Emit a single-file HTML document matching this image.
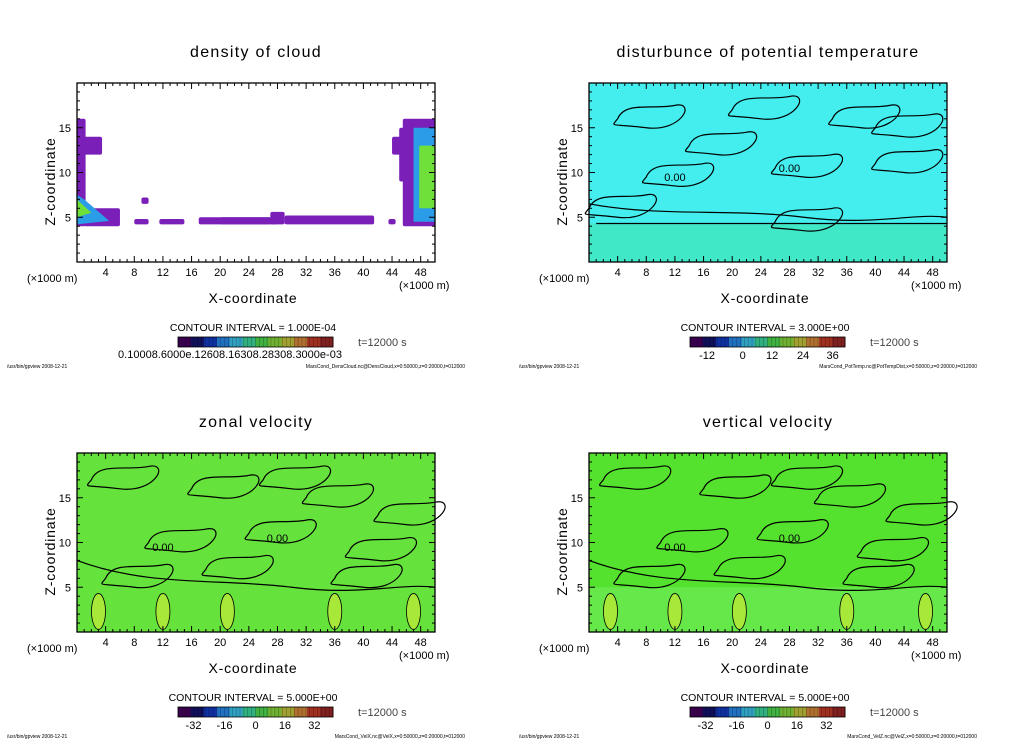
<!DOCTYPE html>
<html><head><meta charset="utf-8">
<style>
html,body{margin:0;padding:0;background:#fff;}
svg{display:block;font-family:"Liberation Sans",sans-serif;}
</style></head>
<body>
<svg id="fig" width="1024" height="740" viewBox="0 0 1024 740"></svg>
<script>
// Axis data
const xTicks=[4,8,12,16,20,24,28,32,36,40,44,48];
const zTicks=[5,10,15];
const cbTicksT=["-12","0","12","24","36"];
const cbTicksV=["-32","-16","0","16","32"];
const titles=["density of cloud","disturbunce of potential temperature","zonal velocity","vertical velocity"];
const intervals=["1.000E-04","3.000E+00","5.000E+00","5.000E+00"];
const files=["MarsCond_DensCloud.nc@DensCloud,x=0:50000,z=0:20000,t=012000","MarsCond_PotTemp.nc@PotTempDist,x=0:50000,z=0:20000,t=012000","MarsCond_VelX.nc@VelX,x=0:50000,z=0:20000,t=012000","MarsCond_VelZ.nc@VelZ,x=0:50000,z=0:20000,t=012000"];
// cloud patches: x0,x1 (km), z0,z1 (km)
const cloudX0=[0,0,1,8,9,11.5,17,20,27,29,43.5,45.5,45,44];
const cloudX1=[3.5,1.2,6,10,10,15,27,28,29,41.5,44.5,50,50,50];
const cloudZ0=[12,4,4,4.2,6.5,4.2,4.2,4.2,4.2,4.2,4.2,4,9,12];
const cloudZ1=[14,16,6,4.8,7.2,4.8,5,5,5.6,5.2,4.8,16,15,14];
const NS="http://www.w3.org/2000/svg";
const svg=document.getElementById('fig');
function el(t,a,p){const e=document.createElementNS(NS,t);for(const k in a)e.setAttribute(k,a[k]);(p||svg).appendChild(e);return e;}
function txt(x,y,s,size,anchor,p){const e=el('text',{x:x,y:y,'font-size':size,'text-anchor':anchor||'middle',fill:'#000'},p);e.textContent=s;return e;}
const panels=[{x:77,y:83},{x:589,y:83},{x:77,y:453},{x:589,y:453}];
const W=358,H=179;
panels.forEach((P,i)=>{
  const g=el('g',{});
  
  
  const sx=v=>P.x+v/50*W, sz=v=>P.y+H-v/20*H;
  const t=txt(P.x+W/2,P.y-26,titles[i],16,'middle',g);
  t.setAttribute('letter-spacing','1.3');
  if(i===1){el('rect',{x:P.x,y:P.y,width:W,height:H,fill:'#44eeee'},g);el('rect',{x:P.x,y:sz(4.3),width:W,height:sz(0)-sz(4.3),fill:'#40e8c8'},g);}
  if(i===2){el('rect',{x:P.x,y:P.y,width:W,height:H,fill:'#66e23c'},g);}
  if(i===3){el('rect',{x:P.x,y:P.y,width:W,height:H,fill:'#55e22e'},g);el('rect',{x:P.x,y:sz(5),width:W,height:sz(0)-sz(5),fill:'#66e84a'},g);}
  if(i===0){
    for(let k=0;k<cloudX0.length;k++){
      const r=el('rect',{x:sx(cloudX0[k]),y:sz(cloudZ1[k]),width:sx(cloudX1[k])-sx(cloudX0[k]),height:sz(cloudZ0[k])-sz(cloudZ1[k]),fill:'#7a1fb8',rx:2},g);
      
    }
    el('path',{d:`M${sx(0)},${sz(7.5)} L${sx(1)},${sz(7)} L${sx(4.5)},${sz(4.6)} L${sx(0)},${sz(4.2)}Z`,fill:'#2a9ce8'},g);
    el('path',{d:`M${sx(0)},${sz(7)} L${sx(2)},${sz(5.5)} L${sx(0)},${sz(5)}Z`,fill:'#6fe03a'},g);
    el('rect',{x:sx(47),y:sz(15),width:sx(50)-sx(47),height:sz(4.5)-sz(15),fill:'#2a9ce8'},g);
    el('rect',{x:sx(47.8),y:sz(13),width:sx(50)-sx(47.8),height:sz(6)-sz(13),fill:'#6fe03a'},g);
  } else {
    const seeds=i===1?[[8,16],[24,17],[38,16],[12,9.5],[30,10.5],[44,11],[4,6],[30,4.5],[18,13],[44,15]]:[[6,17],[20,16],[36,15],[14,10],[28,11],[42,9],[8,6],[22,7],[40,6],[30,17],[46,13]];
    seeds.forEach(s=>{
      el('path',{d:`M${sx(s[0]-4)},${sz(s[1])} C${sx(s[0]-3)},${sz(s[1]+2)} ${sx(s[0]+1)},${sz(s[1]+1)} ${sx(s[0]+4)},${sz(s[1]+1.5)} S${sx(s[0]+5)},${sz(s[1]-1.5)} ${sx(s[0])},${sz(s[1]-1)} S${sx(s[0]-5)},${sz(s[1]-1)} ${sx(s[0]-4)},${sz(s[1])}Z`,fill:'none',stroke:'#000','stroke-width':1.2},g);
    });
    el('path',{d:`M${P.x},${sz(i===1?6.5:8)} C${sx(10)},${sz(5)} ${sx(20)},${sz(6)} ${sx(30)},${sz(5)} S${sx(45)},${sz(5.5)} ${P.x+W},${sz(5)}`,fill:'none',stroke:'#000','stroke-width':1.2},g);
    if(i===1)el('line',{x1:sx(1),y1:sz(4.3),x2:P.x+W,y2:sz(4.3),stroke:'#000','stroke-width':1.3},g);
    if(i>=2){[3,12,21,36,47].forEach(c=>el('ellipse',{cx:sx(c),cy:sz(2.3),rx:7,ry:18,fill:'#a8e838',stroke:'#000','stroke-width':0.8},g));}
    [[12,9.5],[28,10.5]].forEach(s=>txt(sx(s[0]),sz(s[1])+4,'0.00',11,'middle',g));
  }
  el('rect',{x:P.x,y:P.y,width:W,height:H,fill:'none',stroke:'#000','stroke-width':1.3},g);
  for(let v=1;v<50;v++){const L=v%4===0?6:3;el('line',{x1:sx(v),y1:P.y+H,x2:sx(v),y2:P.y+H-L,stroke:'#000'},g);el('line',{x1:sx(v),y1:P.y,x2:sx(v),y2:P.y+L,stroke:'#000'},g);}
  for(let v=1;v<20;v++){const L=v%5===0?6:3;el('line',{x1:P.x,y1:sz(v),x2:P.x+L,y2:sz(v),stroke:'#000'},g);el('line',{x1:P.x+W,y1:sz(v),x2:P.x+W-L,y2:sz(v),stroke:'#000'},g);}
  xTicks.forEach(v=>txt(sx(v),P.y+H+14,String(v),11,'middle',g));
  zTicks.forEach(v=>txt(P.x-6,sz(v)+4,String(v),11,'end',g));
  txt(P.x-50,P.y+H+20,'(×1000 m)',11,'start',g);
  txt(P.x+W-36,P.y+H+27,'(×1000 m)',11,'start',g);
  txt(P.x+W/2-3,P.y+H+41,'X-coordinate',14,'middle',g).setAttribute('letter-spacing','0.8');
  const zt=txt(0,0,'Z-coordinate',14,'middle',g);zt.setAttribute('letter-spacing','0.8');zt.setAttribute('transform',`translate(${P.x-22},${P.y+H/2+9}) rotate(-90)`);
  txt(P.x+W/2-3,P.y+H+69,'CONTOUR INTERVAL = '+intervals[i],10.5,'middle',g);
  const cb={x:P.x+101,y:P.y+H+75,w:155,h:10};
  const cols=['#3a0050','#10105a','#1030a0','#2070c0','#30a0c0','#30b080','#40b040','#70b030','#a0a030','#b07030','#a03020','#802020'];
  cols.forEach((c,k)=>el('rect',{x:cb.x+k*cb.w/cols.length,y:cb.y,width:cb.w/cols.length+0.5,height:cb.h,fill:c},g));
  for(let k=0;k<=40;k++)el('line',{x1:cb.x+k*cb.w/40,y1:cb.y,x2:cb.x+k*cb.w/40,y2:cb.y+cb.h,stroke:'#000','stroke-width':0.4,opacity:0.5},g);
  el('rect',{x:cb.x,y:cb.y,width:cb.w,height:cb.h,fill:'none',stroke:'#000','stroke-width':0.8},g);
  if(i===0)txt(cb.x+52,cb.y+21,'0.10008.6000e.12608.16308.28308.3000e-03',11,'middle',g);
  else{const tk=i===1?cbTicksT:cbTicksV;const fr=i===1?[0.11,0.34,0.53,0.73,0.92]:[0.1,0.3,0.5,0.69,0.88];tk.forEach((s,k)=>txt(cb.x+fr[k]*cb.w,cb.y+22,s,11,'middle',g));}
  txt(P.x+W-77,cb.y+9,'t=12000 s',11,'start',g).setAttribute('fill','#444');
  txt(P.x-70,P.y+H+106,'/usr/bin/gpview   2008-12-21',5,'start',g);
  txt(P.x+W+30,P.y+H+106,files[i],5,'end',g);
});
</script>
</body></html>
